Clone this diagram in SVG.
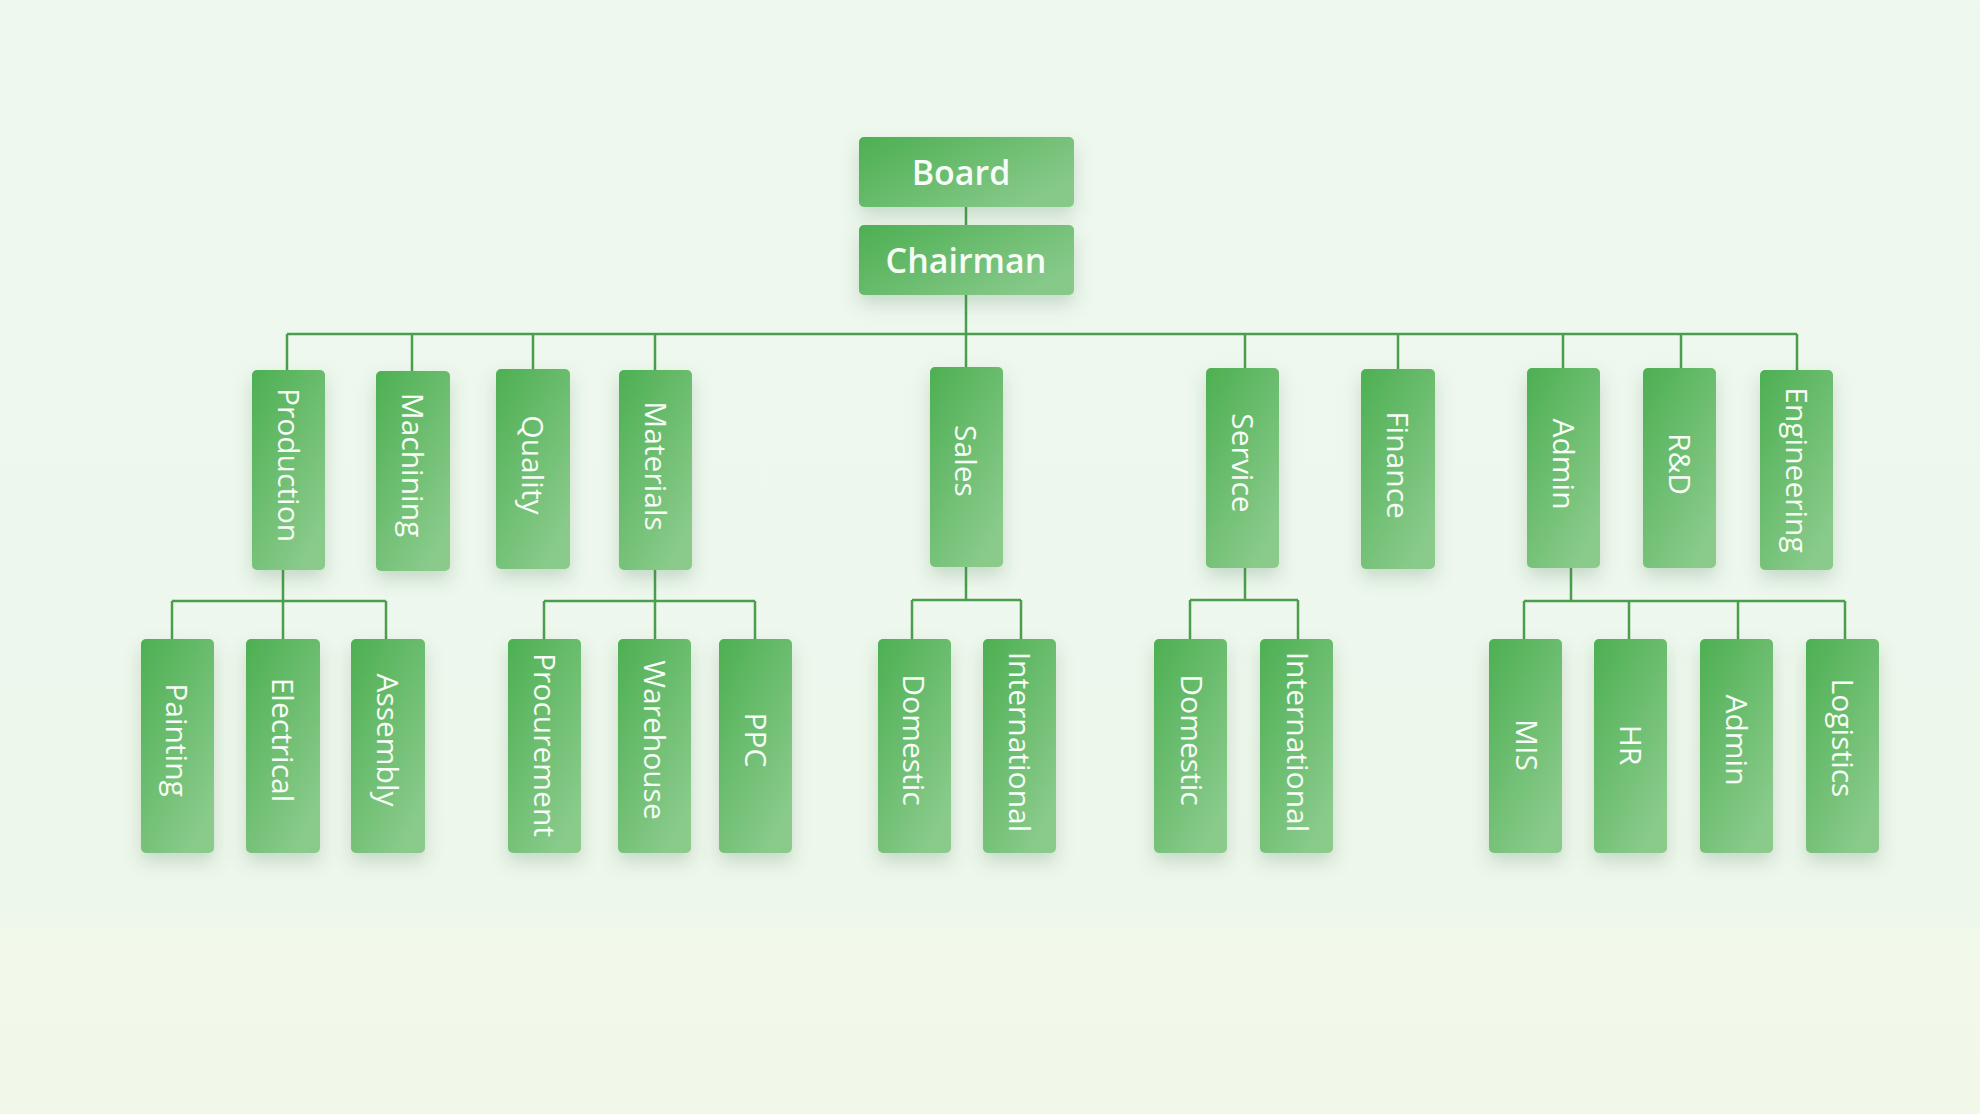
<svg xmlns="http://www.w3.org/2000/svg" width="1980" height="1114" viewBox="0 0 1980 1114">
<defs>
  <linearGradient id="bg" x1="0" y1="0" x2="0" y2="1">
    <stop offset="0" stop-color="#eef8ef"/>
    <stop offset="0.83" stop-color="#eef7ec"/>
    <stop offset="0.835" stop-color="#f1f9eb"/>
    <stop offset="1" stop-color="#f1f8ea"/>
  </linearGradient>
  <linearGradient id="box" x1="0" y1="0" x2="0.7" y2="1">
    <stop offset="0" stop-color="#4daf52"/>
    <stop offset="1" stop-color="#8acb8c"/>
  </linearGradient>
  <linearGradient id="boxh" x1="0" y1="0" x2="1" y2="0.6">
    <stop offset="0" stop-color="#4daf52"/>
    <stop offset="1" stop-color="#86c989"/>
  </linearGradient>
  <filter id="sh" x="-60%" y="-30%" width="220%" height="170%">
    <feDropShadow dx="0" dy="9" stdDeviation="9" flood-color="#3a6e3c" flood-opacity="0.22"/>
  </filter>
</defs>
<style>
  .b { fill: url(#box); filter: url(#sh); }
  .bh { fill: url(#boxh); filter: url(#sh); }
  .t { font-family: "Open Sans", "Noto Sans", "Liberation Sans", sans-serif; font-size: 30px; font-weight: 500; fill: #f6fcf6; text-anchor: middle; dominant-baseline: central; }
  .th { font-family: "Open Sans", "Noto Sans", "Liberation Sans", sans-serif; font-size: 34px; font-weight: 600; fill: #f6fcf6; text-anchor: middle; dominant-baseline: central; }
  .c { fill: none; stroke: #4a9e4e; stroke-width: 2.5; }
</style>
<rect x="0" y="0" width="1980" height="1114" fill="url(#bg)"/>

<g id="connectors">
  <path class="c" d="M966 207 V225"/>
  <path class="c" d="M966 295 V367"/>
  <path class="c" d="M287 334 H1797"/>
  <path class="c" d="M287 334 V370 M412 334 V371 M533 334 V369 M655 334 V370 M1245 334 V368 M1398 334 V369 M1563 334 V368 M1681 334 V368 M1797 334 V370"/>
  <path class="c" d="M283 570 V601 M172 601 H386 M172 601 V639 M283 601 V639 M386 601 V639"/>
  <path class="c" d="M655 570 V601 M544 601 H755 M544 601 V639 M655 601 V639 M755 601 V639"/>
  <path class="c" d="M966 567 V600 M912 600 H1021 M912 600 V639 M1021 600 V639"/>
  <path class="c" d="M1245 567 V600 M1190 600 H1298 M1190 600 V639 M1298 600 V639"/>
  <path class="c" d="M1571 567 V601 M1524 601 H1845 M1524 601 V639 M1629 601 V639 M1738 601 V639 M1845 601 V639"/>
</g>

<g id="board"><rect class="bh" x="859" y="137" width="215" height="70" rx="5"/><text class="th" x="961" y="172">Board</text></g>
<g id="chairman"><rect class="bh" x="859" y="225" width="215" height="70" rx="5"/><text class="th" x="966" y="260">Chairman</text></g>

<g id="production"><rect class="b" x="252" y="370" width="73" height="200" rx="5"/><text class="t" transform="translate(289 465) rotate(90)">Production</text></g>
<g id="machining"><rect class="b" x="376" y="371" width="74" height="200" rx="5"/><text class="t" transform="translate(413 465) rotate(90)">Machining</text></g>
<g id="quality"><rect class="b" x="496" y="369" width="74" height="200" rx="5"/><text class="t" transform="translate(533 465) rotate(90)">Quality</text></g>
<g id="materials"><rect class="b" x="619" y="370" width="73" height="200" rx="5"/><text class="t" transform="translate(656 466) rotate(90)">Materials</text></g>
<g id="sales"><rect class="b" x="930" y="367" width="73" height="200" rx="5"/><text class="t" transform="translate(966 461) rotate(90)">Sales</text></g>
<g id="service"><rect class="b" x="1206" y="368" width="73" height="200" rx="5"/><text class="t" transform="translate(1243 463) rotate(90)">Service</text></g>
<g id="finance"><rect class="b" x="1361" y="369" width="74" height="200" rx="5"/><text class="t" transform="translate(1398 465) rotate(90)">Finance</text></g>
<g id="admin"><rect class="b" x="1527" y="368" width="73" height="200" rx="5"/><text class="t" transform="translate(1564 464) rotate(90)">Admin</text></g>
<g id="rnd"><rect class="b" x="1643" y="368" width="73" height="200" rx="5"/><text class="t" transform="translate(1680 464) rotate(90)">R&amp;D</text></g>
<g id="engineering"><rect class="b" x="1760" y="370" width="73" height="200" rx="5"/><text class="t" transform="translate(1797 470) rotate(90)">Engineering</text></g>

<g id="painting"><rect class="b" x="141" y="639" width="73" height="214" rx="5"/><text class="t" transform="translate(177 740) rotate(90)">Painting</text></g>
<g id="electrical"><rect class="b" x="246" y="639" width="74" height="214" rx="5"/><text class="t" transform="translate(283 740) rotate(90)">Electrical</text></g>
<g id="assembly"><rect class="b" x="351" y="639" width="74" height="214" rx="5"/><text class="t" transform="translate(388 740) rotate(90)">Assembly</text></g>
<g id="procurement"><rect class="b" x="508" y="639" width="73" height="214" rx="5"/><text class="t" transform="translate(545 745) rotate(90)">Procurement</text></g>
<g id="warehouse"><rect class="b" x="618" y="639" width="73" height="214" rx="5"/><text class="t" transform="translate(655 740) rotate(90)">Warehouse</text></g>
<g id="ppc"><rect class="b" x="719" y="639" width="73" height="214" rx="5"/><text class="t" transform="translate(756 740) rotate(90)">PPC</text></g>
<g id="sales-domestic"><rect class="b" x="878" y="639" width="73" height="214" rx="5"/><text class="t" transform="translate(914 740) rotate(90)">Domestic</text></g>
<g id="sales-international"><rect class="b" x="983" y="639" width="73" height="214" rx="5"/><text class="t" transform="translate(1020 742) rotate(90)">International</text></g>
<g id="service-domestic"><rect class="b" x="1154" y="639" width="73" height="214" rx="5"/><text class="t" transform="translate(1192 740) rotate(90)">Domestic</text></g>
<g id="service-international"><rect class="b" x="1260" y="639" width="73" height="214" rx="5"/><text class="t" transform="translate(1298 742) rotate(90)">International</text></g>
<g id="mis"><rect class="b" x="1489" y="639" width="73" height="214" rx="5"/><text class="t" transform="translate(1527 745) rotate(90)">MIS</text></g>
<g id="hr"><rect class="b" x="1594" y="639" width="73" height="214" rx="5"/><text class="t" transform="translate(1631 745) rotate(90)">HR</text></g>
<g id="admin-sub"><rect class="b" x="1700" y="639" width="73" height="214" rx="5"/><text class="t" transform="translate(1737 740) rotate(90)">Admin</text></g>
<g id="logistics"><rect class="b" x="1806" y="639" width="73" height="214" rx="5"/><text class="t" transform="translate(1843 738) rotate(90)">Logistics</text></g>
</svg>
